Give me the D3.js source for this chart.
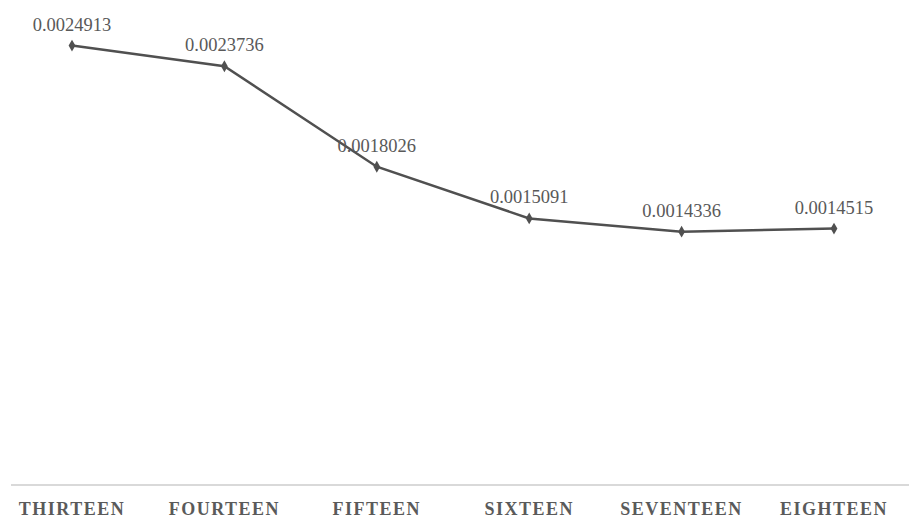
<!DOCTYPE html>
<html>
<head>
<meta charset="utf-8">
<script src="https://cdn.jsdelivr.net/npm/d3@7"></script>
<style>
  html, body { margin: 0; padding: 0; background: #fff; }
  svg { display: block; }
</style>
</head>
<body>
<div id="chart"></div>
<script>
const categories = ["THIRTEEN", "FOURTEEN", "FIFTEEN", "SIXTEEN", "SEVENTEEN", "EIGHTEEN"];
const values = [0.0024913, 0.0023736, 0.0018026, 0.0015091, 0.0014336, 0.0014515];
const valueLabels = ["0.0024913", "0.0023736", "0.0018026", "0.0015091", "0.0014336", "0.0014515"];

const width = 909, height = 523;

const svg = d3.select("#chart").append("svg")
  .attr("width", width)
  .attr("height", height);

// x scale
const x = d3.scalePoint()
  .domain(categories)
  .range([72, 834]);

// y scale
const y = d3.scaleLinear()
  .domain([0, 0.00275])
  .range([484, 0]);

// axis line
svg.append("line")
  .attr("x1", 11).attr("x2", 909)
  .attr("y1", y(0) + 1).attr("y2", y(0) + 1)
  .attr("stroke", "#d9d9d9")
  .attr("stroke-width", 2);

// category labels
svg.append("g")
  .selectAll("text")
  .data(categories)
  .join("text")
  .attr("x", d => x(d))
  .attr("y", 515)
  .attr("text-anchor", "middle")
  .attr("font-family", "Liberation Serif, serif")
  .attr("font-size", 18)
  .attr("font-weight", "bold")
  .attr("letter-spacing", 1.5)
  .attr("fill", "#5a5a5a")
  .text(d => d);

const line = d3.line()
  .x((d, i) => x(categories[i]))
  .y(d => y(d));

svg.append("path")
  .datum(values)
  .attr("fill", "none")
  .attr("stroke", "#505050")
  .attr("stroke-width", 2.5)
  .attr("d", line);

svg.append("g")
  .selectAll("path")
  .data(values)
  .join("path")
  .attr("d", d3.symbol(d3.symbolDiamond, 40))
  .attr("transform", (d, i) => `translate(${x(categories[i])},${y(d)})`)
  .attr("fill", "#505050");

svg.append("g")
  .selectAll("text")
  .data(values)
  .join("text")
  .attr("x", (d, i) => x(categories[i]))
  .attr("y", d => y(d) - 15)
  .attr("text-anchor", "middle")
  .attr("font-family", "Liberation Serif, serif")
  .attr("font-size", 18.5)
  .attr("fill", "#595959")
  .text((d, i) => valueLabels[i]);
</script>
</body>
</html>
